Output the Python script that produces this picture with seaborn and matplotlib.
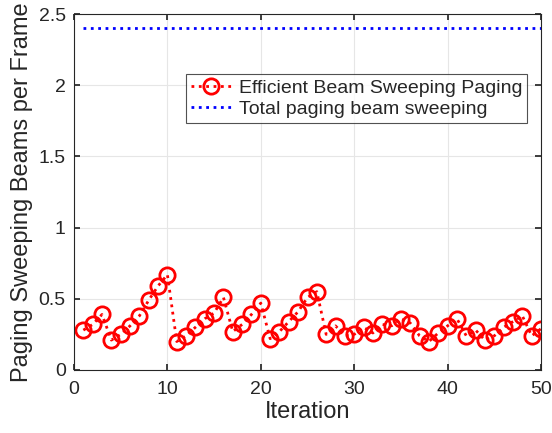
import matplotlib
matplotlib.use("Agg")
import matplotlib.pyplot as plt
import seaborn as sns
import pandas as pd
import numpy as np

iterations = list(range(1, 51))
efficient = [0.28, 0.32, 0.39, 0.21, 0.25, 0.31, 0.38, 0.49, 0.59, 0.67,
             0.20, 0.24, 0.30, 0.36, 0.40, 0.51, 0.27, 0.32, 0.39, 0.47,
             0.22, 0.27, 0.34, 0.41, 0.51, 0.55, 0.25, 0.31, 0.24, 0.25,
             0.30, 0.26, 0.32, 0.31, 0.36, 0.33, 0.24, 0.20, 0.26, 0.31,
             0.36, 0.24, 0.28, 0.21, 0.24, 0.30, 0.34, 0.38, 0.24, 0.29]
total_value = 2.4
total = [total_value] * len(iterations)

df = pd.DataFrame({"Iteration": iterations, "Efficient": efficient, "Total": total})

sns.set_theme(style="white")
plt.rcParams['font.family'] = ['Liberation Sans', 'DejaVu Sans']

fig = plt.figure(figsize=(5.52, 4.33), dpi=100)
ax = fig.add_axes([74/552, 1 - 370/433, (541-74)/552, (370-14)/433])

sns.lineplot(data=df, x="Iteration", y="Efficient", ax=ax, color="#ff0000",
             linestyle=":", linewidth=2, marker="o", markersize=11,
             markerfacecolor="none", markeredgecolor="#ff0000", markeredgewidth=2,
             label="Efficient Beam Sweeping Paging")
sns.lineplot(data=df, x="Iteration", y="Total", ax=ax, color="#0000ff",
             linestyle=":", linewidth=2, label="Total paging beam sweeping")

ax.set_xlim(0, 50)
ax.set_ylim(0, 2.5)
ax.set_xticks([0, 10, 20, 30, 40, 50])
ax.set_yticks([0, 0.5, 1, 1.5, 2, 2.5])
ax.set_yticklabels(["0", "0.5", "1", "1.5", "2", "2.5"])
ax.grid(True, color="#e6e6e6", linewidth=0.8)
ax.set_axisbelow(True)
for s in ax.spines.values():
    s.set_color("#262626")
    s.set_linewidth(0.8)
ax.tick_params(direction="in", length=4, labelsize=14, colors="#262626",
               top=True, right=True, bottom=True, left=True, pad=6)
ax.tick_params(axis="x", pad=8)
ax.set_xlabel("Iteration", fontsize=17, color="#262626", labelpad=2)
ax.set_ylabel("Paging Sweeping Beams per Frame", fontsize=17, color="#262626", labelpad=4)

leg = ax.legend(loc="upper right", bbox_to_anchor=(0.97, 0.831), fontsize=14,
                frameon=True, fancybox=False, edgecolor="#262626",
                borderpad=0.25, labelspacing=0.2, handlelength=2.1,
                handletextpad=0.35, borderaxespad=0)
leg.get_frame().set_linewidth(0.8)

fig.savefig("out.png", dpi=100)
